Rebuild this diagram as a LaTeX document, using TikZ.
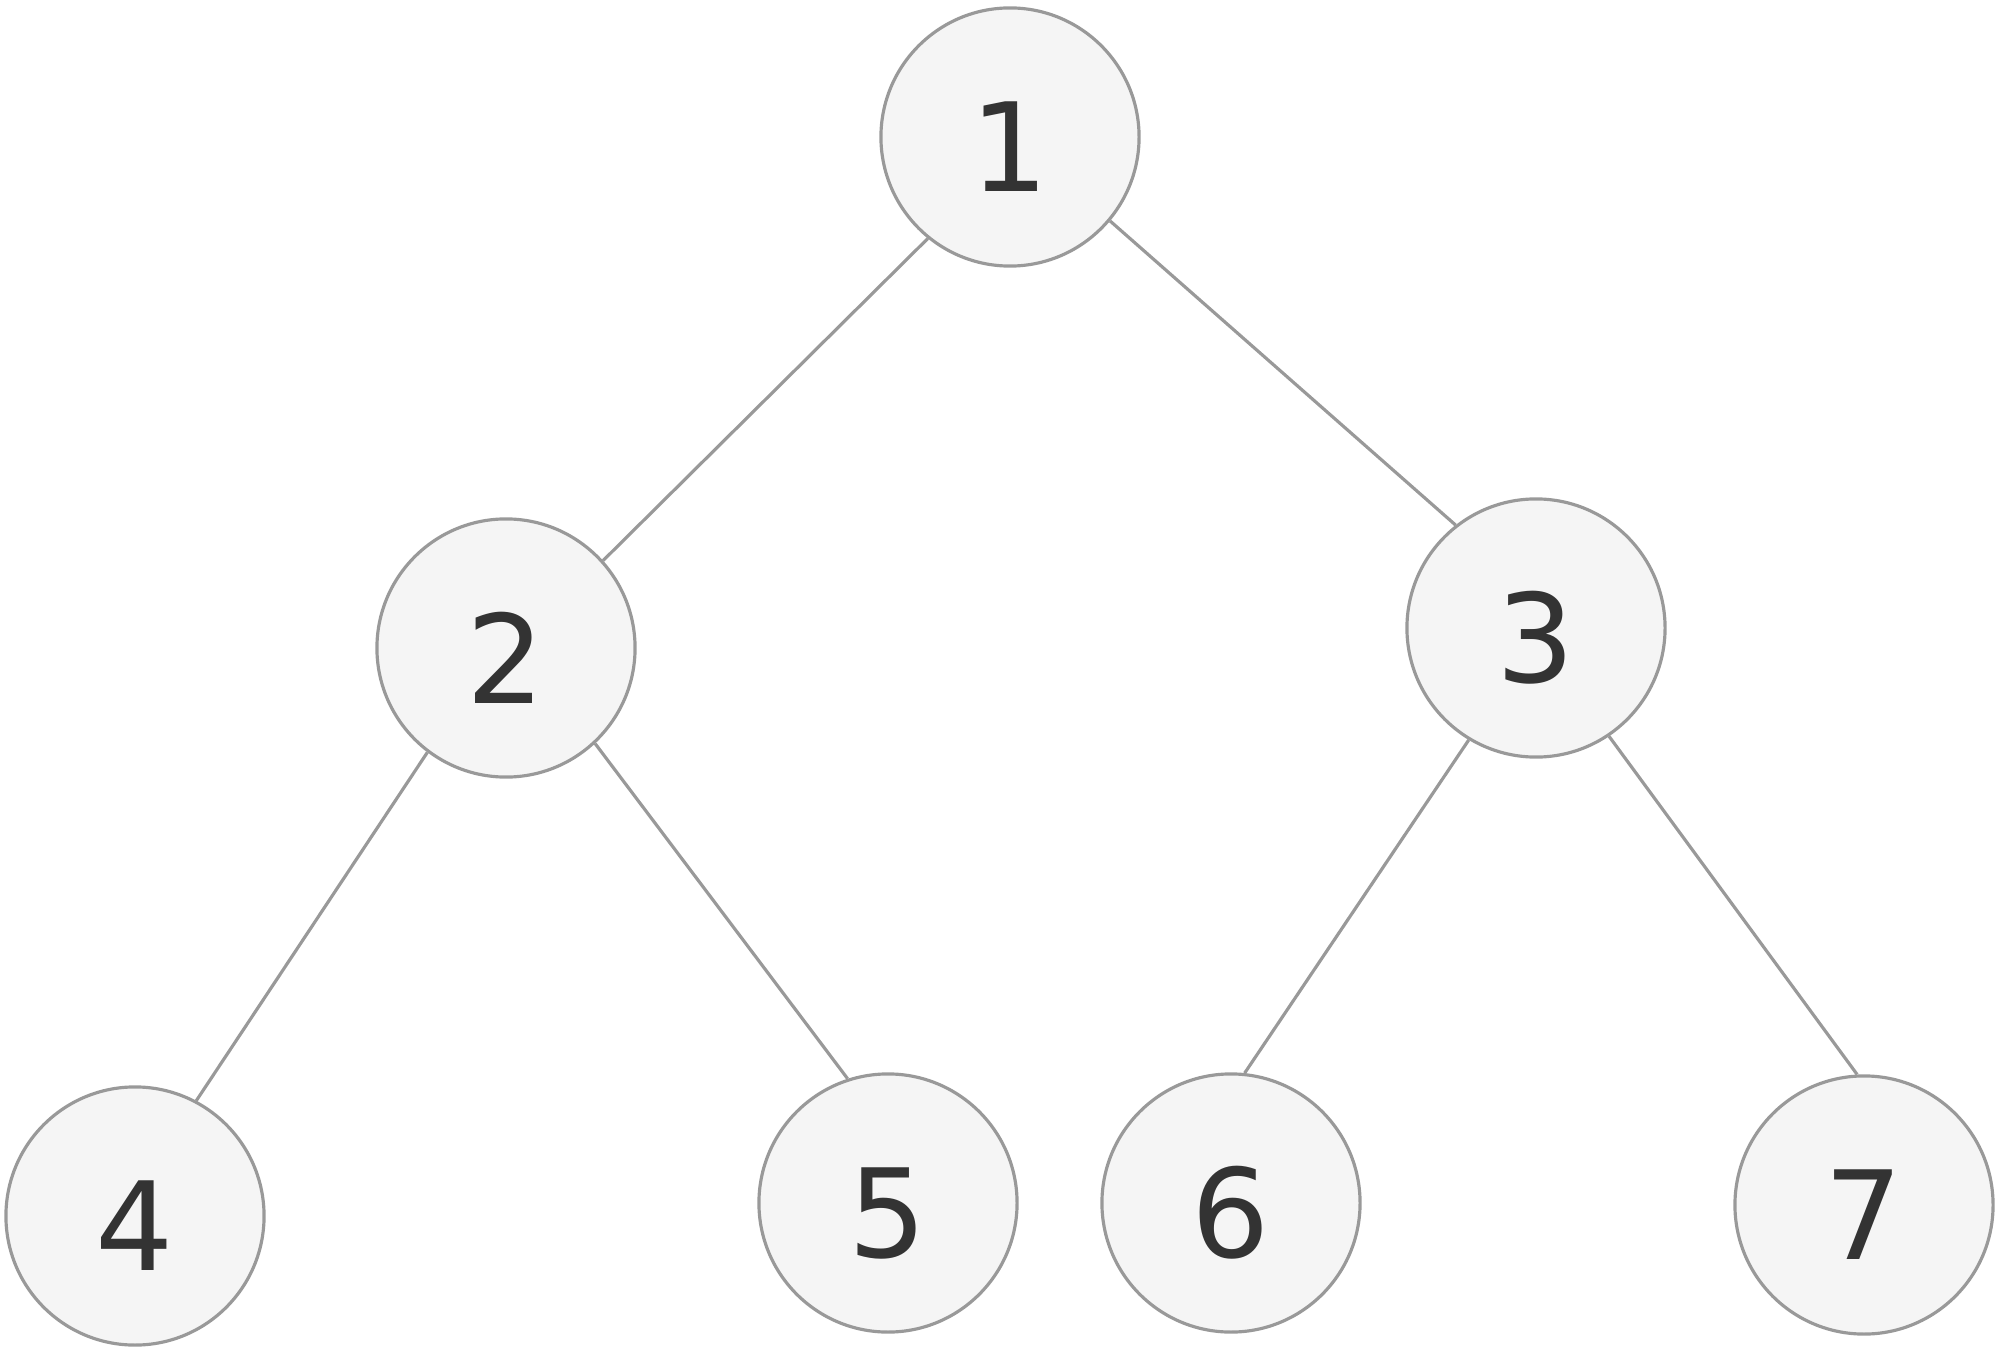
\documentclass[tikz,border=0pt]{standalone}
\usepackage{fontspec}
\setmainfont{DejaVu Sans}
\definecolor{nodefill}{HTML}{F5F5F5}
\definecolor{nodeline}{HTML}{999999}
\definecolor{edgeline}{HTML}{999999}
\definecolor{txt}{HTML}{333333}
\begin{document}
\begin{tikzpicture}[x=0.01cm,y=-0.01cm,
  treenode/.style={circle,draw=nodeline,fill=nodefill,line width=0.9pt,minimum size=2.58cm,inner sep=0pt},
  digit/.style={text=txt,font=\fontsize{35}{40}\selectfont,yshift=-0.1cm},
  edge/.style={draw=edgeline,line width=0.9pt}]
\useasboundingbox (0,0) rectangle (2000,1358);
\node[treenode,label={[digit]center:1}] (n1) at (1010,137) {};
\node[treenode,label={[digit]center:2}] (n2) at (506,648) {};
\node[treenode,label={[digit]center:3}] (n3) at (1536,628) {};
\node[treenode,label={[digit]center:4}] (n4) at (135,1216) {};
\node[treenode,label={[digit]center:5}] (n5) at (888,1203) {};
\node[treenode,label={[digit]center:6}] (n6) at (1231,1203) {};
\node[treenode,label={[digit]center:7}] (n7) at (1864,1205) {};
\draw[edge] (n1.231) -- (n2.42);
\draw[edge] (n1.320) -- (n3.128);
\draw[edge] (n2.233) -- (n4.62);
\draw[edge] (n2.313) -- (n5.108);
\draw[edge] (n3.239) -- (n6.84);
\draw[edge] (n3.304) -- (n7.93);
\end{tikzpicture}
\end{document}
